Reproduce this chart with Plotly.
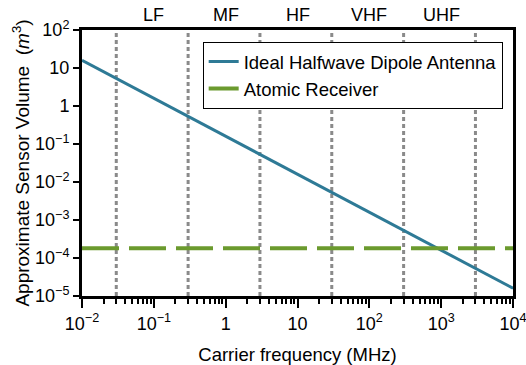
import math
import plotly.graph_objects as go

frequencies = [0.01, 1e4]
dipole_volume = [16, 1.6e-5]
atomic_volume = [1.8e-4, 1.8e-4]
band_edges = [0.03, 0.3, 3, 30, 300, 3000]
band_names = ["LF", "MF", "HF", "VHF", "UHF"]
band_centers = [0.1, 1, 10, 100, 1000]
x_tickvals = [1e-2, 1e-1, 1, 10, 1e2, 1e3, 1e4]
x_ticktext = ["10<sup>−2</sup>", "10<sup>−1</sup>", "1", "10", "10<sup>2</sup>", "10<sup>3</sup>", "10<sup>4</sup>"]
y_tickvals = [1e2, 10, 1, 1e-1, 1e-2, 1e-3, 1e-4, 1e-5]
y_ticktext = ["10<sup>2</sup>", "10", "1", "10<sup>−1</sup>", "10<sup>−2</sup>", "10<sup>−3</sup>", "10<sup>−4</sup>", "10<sup>−5</sup>"]

FS = 18
fig = go.Figure()
fig.add_trace(go.Scatter(x=frequencies, y=dipole_volume, mode="lines",
                         name="Ideal Halfwave Dipole Antenna",
                         line=dict(color="#2e7a96", width=3)))
fig.add_trace(go.Scatter(x=frequencies, y=atomic_volume, mode="lines",
                         name="Atomic Receiver",
                         line=dict(color="#6b9a2e", width=4, dash="37px,10px")))

for e in band_edges:
    fig.add_shape(type="line", xref="x", yref="paper", x0=e, x1=e, y0=0, y1=1,
                  line=dict(color="#8a8a8a", width=3, dash="4px,3px"), layer="below")

for name, c in zip(band_names, band_centers):
    fig.add_annotation(x=math.log10(c), xref="x", y=1.0, yref="paper", yanchor="bottom", yshift=3,
                       text=name, showarrow=False, font=dict(size=FS, color="black"))

fig.update_layout(
    width=526, height=365,
    margin=dict(l=82, r=13, t=30, b=69, pad=0),
    paper_bgcolor="white", plot_bgcolor="white",
    font=dict(family="Liberation Sans, Arial, sans-serif", size=FS, color="black"),
    showlegend=True,
    legend=dict(x=0.28, y=0.955, xanchor="left", yanchor="top",
                bgcolor="white", bordercolor="black", borderwidth=1,
                font=dict(size=18.5), tracegroupgap=0),
)
fig.update_xaxes(type="log", range=[-2, 4], tickvals=x_tickvals, ticktext=x_ticktext,
                 automargin=False, ticklabeloverflow="allow",
                 showgrid=False, zeroline=False, showline=True, linecolor="black", linewidth=3,
                 mirror=True, ticks="outside", ticklen=9, tickwidth=2, tickcolor="black",
                 minor=dict(ticks="outside", ticklen=5, tickwidth=2, tickcolor="black", dtick="D1", showgrid=False),
                 title=dict(text="Carrier frequency (MHz)", font=dict(size=18.5), standoff=16),
                 tickfont=dict(size=FS))
fig.update_yaxes(type="log", range=[-5, 2], tickvals=y_tickvals, ticktext=y_ticktext,
                 automargin=False,
                 showgrid=False, zeroline=False, showline=True, linecolor="black", linewidth=3,
                 mirror=True, ticks="outside", ticklen=6, tickwidth=2, tickcolor="black",
                 title=dict(text="Approximate Sensor Volume  (<i>m</i><sup>3</sup>)", font=dict(size=19), standoff=1),
                 tickfont=dict(size=FS))

fig.write_html("out.html", config={"displayModeBar": False},
               post_script="document.body.style.margin='0';")
